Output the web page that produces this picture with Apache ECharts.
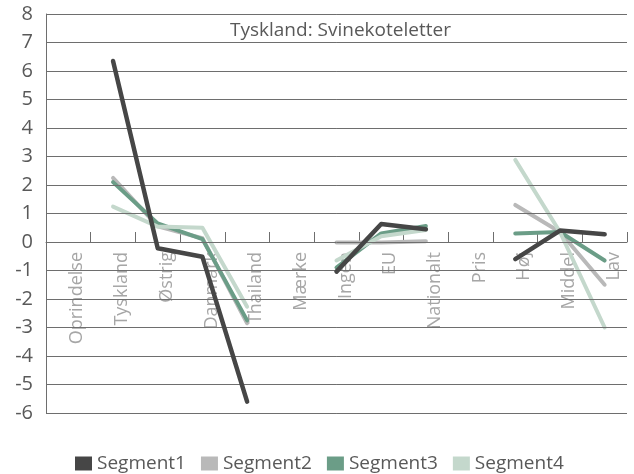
<!DOCTYPE html>
<html>
<head>
<meta charset="utf-8">
<script src="https://cdn.jsdelivr.net/npm/echarts@6/dist/echarts.min.js"></script>
<style>
  html, body { margin: 0; padding: 0; background: #fff; }
  #chart { width: 634px; height: 474px; }
</style>
</head>
<body>
<div id="chart"></div>
<script>
const categories = ['Oprindelse', 'Tyskland', 'Østrig', 'Danmark', 'Thailand', 'Mærke',
  'Ingen', 'EU', 'Nationalt', 'Pris', 'Høj', 'Middel', 'Lav']
const segment1 = [null, 6.35, -0.22, -0.52, -5.6, null, -1.04, 0.63, 0.45, null, -0.6, 0.4, 0.27]
const segment2 = [null, 2.25, 0.55, 0.13, -2.85, null, -0.02, -0.02, 0.03, null, 1.3, 0.35, -1.5]
const segment3 = [null, 2.1, 0.65, 0.1, -2.75, null, -0.9, 0.3, 0.56, null, 0.3, 0.35, -0.65]
const segment4 = [null, 1.24, 0.54, 0.5, -2.27, null, -0.65, 0.2, 0.42, null, 2.88, 0.35, -3.0]
const yTicks = { min: -6, max: 8, step: 1 }
const gridValues = [-6, -5, -4, -3, -2, -1, 0, 1, 2, 3, 4, 5, 6, 7, 8]

const font = 'Open Sans'
const colors = ['#464646', '#b9b9b9', '#6b9d87', '#c4d8cc']
const gridColor = '#6e6e6e'

// plot box, used to park the category axis on the zero line
const plotTop = 14
const plotBottom = 61
const plotHeight = 474 - plotTop - plotBottom
const zeroOffset = plotHeight * (0 - yTicks.min) / (yTicks.max - yTicks.min)

function line (name, data, color, width, z) {
  return {
    name: name,
    type: 'line',
    data: data,
    symbol: 'none',
    connectNulls: false,
    z: z,
    lineStyle: { color: color, width: width, cap: 'round', join: 'round' },
    itemStyle: { color: color }
  }
}

const chart = echarts.init(document.getElementById('chart'))
chart.setOption({
  animation: false,
  textStyle: { fontFamily: font },
  title: {
    text: 'Tyskland: Svinekoteletter',
    left: 225,
    top: 16,
    textStyle: { fontFamily: font, fontSize: 19, fontWeight: 'normal', color: '#595959' }
  },
  grid: { left: 46, right: 7, top: plotTop, bottom: plotBottom },
  legend: {
    left: 70,
    top: 449,
    icon: 'rect',
    itemWidth: 17,
    itemHeight: 14,
    itemGap: 15,
    textStyle: { fontFamily: font, fontSize: 19, color: '#595959' },
    data: ['Segment1', 'Segment2', 'Segment3', 'Segment4']
  },
  xAxis: {
    type: 'category',
    data: categories,
    boundaryGap: true,
    position: 'bottom',
    offset: -zeroOffset,
    axisLine: { show: true, onZero: false, lineStyle: { color: gridColor, width: 1 } },
    axisTick: { show: true, inside: true, alignWithLabel: false, interval: 0, length: 10, lineStyle: { color: gridColor, width: 1 } },
    axisLabel: {
      rotate: 90,
      interval: 0,
      margin: 10,
      fontSize: 18,
      color: '#a6a6a6',
      fontFamily: font,
      verticalAlign: 'top'
    },
    splitLine: { show: false }
  },
  yAxis: {
    type: 'value',
    min: yTicks.min,
    max: yTicks.max,
    interval: yTicks.step,
    axisLine: { show: true, lineStyle: { color: gridColor, width: 1 } },
    axisLabel: { fontSize: 20, color: '#595959', margin: 13, fontFamily: font },
    splitLine: { show: true, lineStyle: { color: gridColor, width: 1 } }
  },
  series: [
    {
      // horizontal gridlines, drawn through the value scale
      name: 'grid',
      type: 'line',
      data: [],
      z: 1,
      silent: true,
      markLine: {
        silent: true,
        symbol: 'none',
        label: { show: false },
        lineStyle: { color: gridColor, width: 1, type: 'solid' },
        data: gridValues.map(v => ({ yAxis: v }))
      }
    },
    line('Segment1', segment1, colors[0], 4.5, 5),
    line('Segment2', segment2, colors[1], 4, 2),
    line('Segment3', segment3, colors[2], 4, 3),
    line('Segment4', segment4, colors[3], 4, 4)
  ]
})
</script>
</body>
</html>
